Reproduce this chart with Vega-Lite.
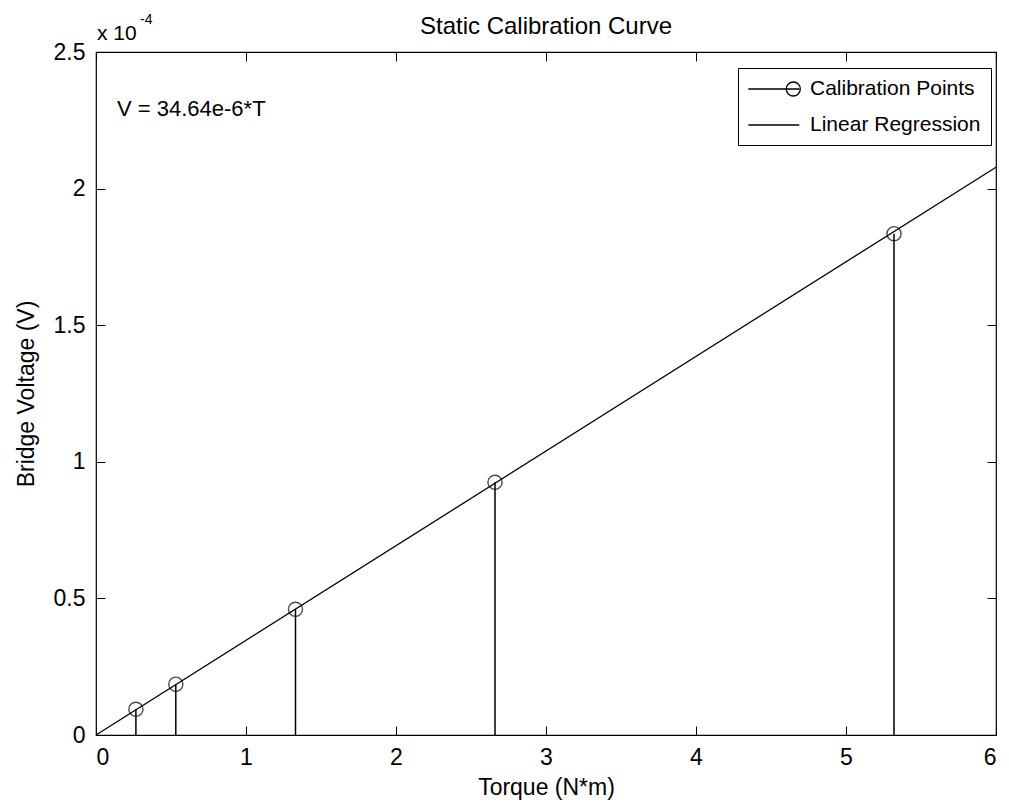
{
  "$schema": "https://vega.github.io/schema/vega-lite/v6.json",
  "width": 900,
  "height": 683,
  "autosize": {"type": "none"},
  "padding": {"left": 96, "top": 52, "right": 13, "bottom": 73},
  "background": "white",
  "title": {
    "text": "Static Calibration Curve",
    "font": "Liberation Sans",
    "fontSize": 24,
    "fontWeight": "normal",
    "color": "black",
    "offset": -26
  },
  "config": {
    "view": {"stroke": "black", "strokeWidth": 1.2},
    "axis": {
      "labelFont": "Liberation Sans",
      "labelFontSize": 23,
      "labelColor": "black",
      "titleFont": "Liberation Sans",
      "titleFontSize": 23,
      "titleFontWeight": "normal",
      "titleColor": "black",
      "domainColor": "black",
      "tickColor": "black",
      "tickSize": -9,
      "grid": false
    }
  },
  "datasets": {
    "calibration": [
      {"T": 0.266, "V": 0.0000094},
      {"T": 0.532, "V": 0.0000186},
      {"T": 1.33, "V": 0.000046},
      {"T": 2.66, "V": 0.0000925},
      {"T": 5.32, "V": 0.0001835}
    ],
    "regression": [
      {"T": 0, "V": 0},
      {"T": 6, "V": 0.00020784}
    ],
    "notes": [
      {"T": 0.14, "V": 0.000229, "label": "V = 34.64e-6*T"}
    ],
    "multiplier": [
      {"T": 0, "V": 0.00025, "base": "x 10", "power": "-4"}
    ]
  },
  "resolve": {"axis": {"x": "independent", "y": "independent"}},
  "layer": [
    {
      "data": {"name": "regression"},
      "mark": {"type": "line", "color": "black", "strokeWidth": 1.3},
      "encoding": {
        "x": {
          "field": "T", "type": "quantitative",
          "scale": {"domain": [0, 6], "nice": false, "zero": false},
          "axis": {"values": [0, 1, 2, 3, 4, 5, 6], "title": "Torque (N*m)", "labelPadding": 20, "titlePadding": 7, "domain": false}
        },
        "y": {
          "field": "V", "type": "quantitative",
          "scale": {"domain": [0, 0.00025], "nice": false, "zero": false},
          "axis": {
            "values": [0, 0.00005, 0.0001, 0.00015, 0.0002, 0.00025],
            "labelExpr": "'' + round(datum.value * 100000) / 10",
            "title": "Bridge Voltage (V)",
            "labelPadding": 20,
            "titlePadding": 15,
            "domain": false
          }
        }
      }
    },
    {
      "data": {"name": "calibration"},
      "mark": {"type": "rule", "color": "black", "strokeWidth": 1.5},
      "encoding": {
        "x": {
          "field": "T", "type": "quantitative",
          "axis": {"orient": "top", "values": [0, 1, 2, 3, 4, 5, 6], "labels": false, "title": null, "domain": false}
        },
        "y": {
          "field": "V", "type": "quantitative",
          "axis": {"orient": "right", "values": [0, 0.00005, 0.0001, 0.00015, 0.0002, 0.00025], "labels": false, "title": null, "domain": false}
        },
        "y2": {"datum": 0}
      }
    },
    {
      "data": {"name": "calibration"},
      "mark": {"type": "point", "shape": "circle", "filled": false, "strokeWidth": 1.4, "size": 200, "color": "black"},
      "encoding": {
        "x": {"field": "T", "type": "quantitative", "axis": null},
        "y": {"field": "V", "type": "quantitative", "axis": null}
      }
    },
    {
      "data": {"name": "calibration"},
      "mark": {"type": "point", "filled": false, "opacity": 0, "color": "black", "strokeWidth": 1.3},
      "encoding": {
        "x": {"field": "T", "type": "quantitative", "axis": null},
        "y": {"field": "V", "type": "quantitative", "axis": null},
        "shape": {"datum": "Calibration Points", "type": "nominal",
          "scale": {
            "domain": ["Calibration Points", "Linear Regression"],
            "range": [
              "M-1.07,0H4.03M4.13,0A0.7,0.7,0,1,1,2.73,0A0.7,0.7,0,1,1,4.13,0",
              "M-1.07,0H4.03"
            ]
          },
          "legend": {
            "title": null,
            "orient": "none",
            "legendX": 642,
            "legendY": 16,
            "padding": 10,
            "strokeColor": "black",
            "fillColor": "white",
            "symbolSize": 400,
            "symbolOpacity": 1,
            "symbolStrokeWidth": 1.3,
            "symbolStrokeColor": "black",
            "symbolFillColor": "transparent",
            "labelFont": "Liberation Sans",
            "labelFontSize": 21,
            "labelColor": "black",
            "labelLimit": 400,
            "labelOffset": 40,
            "rowPadding": 15
          }
        }
      }
    },
    {
      "data": {"name": "notes"},
      "mark": {"type": "text", "align": "left", "baseline": "middle", "font": "Liberation Sans", "fontSize": 22, "color": "black"},
      "encoding": {
        "x": {"field": "T", "type": "quantitative", "axis": null},
        "y": {"field": "V", "type": "quantitative", "axis": null},
        "text": {"field": "label"}
      }
    },
    {
      "data": {"name": "multiplier"},
      "mark": {"type": "text", "align": "left", "baseline": "alphabetic", "font": "Liberation Sans", "fontSize": 21, "color": "black", "dx": 1, "dy": -12},
      "encoding": {
        "x": {"field": "T", "type": "quantitative", "axis": null},
        "y": {"field": "V", "type": "quantitative", "axis": null},
        "text": {"field": "base"}
      }
    },
    {
      "data": {"name": "multiplier"},
      "mark": {"type": "text", "align": "left", "baseline": "alphabetic", "font": "Liberation Sans", "fontSize": 14, "color": "black", "dx": 44, "dy": -28},
      "encoding": {
        "x": {"field": "T", "type": "quantitative", "axis": null},
        "y": {"field": "V", "type": "quantitative", "axis": null},
        "text": {"field": "power"}
      }
    }
  ]
}
